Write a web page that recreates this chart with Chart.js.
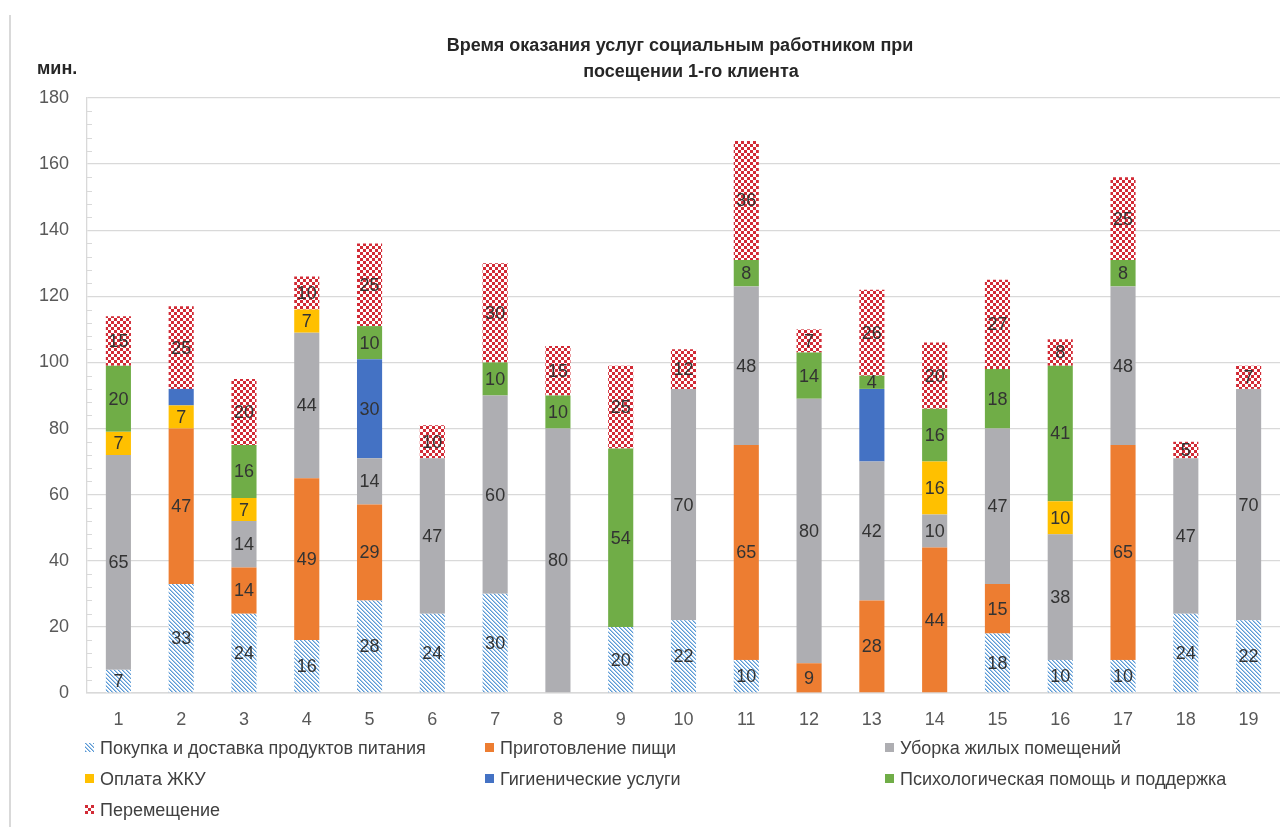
<!DOCTYPE html>
<html>
<head>
<meta charset="utf-8">
<script src="https://cdn.jsdelivr.net/npm/chart.js@4.4.1/dist/chart.umd.min.js"></script>
<style>
html,body{margin:0;padding:0;background:#fff;}
#wrap{position:relative;width:1280px;height:827px;overflow:hidden;font-family:"Liberation Sans",Arial,sans-serif;}
#c{position:absolute;left:0;top:0;}
#border{position:absolute;left:9px;top:15px;width:2px;height:820px;background:#d9d9d9;}
.title{position:absolute;font-weight:bold;font-size:18px;color:#262626;white-space:nowrap;transform:translate(-50%,-50%);}
#unit{position:absolute;left:37px;top:68px;font-weight:bold;font-size:18px;color:#262626;transform:translateY(-50%);}
.lg{position:absolute;height:20px;transform:translateY(-50%);white-space:nowrap;font-size:18px;color:#404040;line-height:20px;}
.sw{position:absolute;left:0;top:5px;width:9px;height:9px;}
.lt{position:absolute;left:15px;top:0;}
</style>
</head>
<body>
<div id="wrap">
  <canvas id="c" width="1280" height="827"></canvas>
  <div id="border"></div>
  <div class="title" style="left:680px;top:45px;">Время оказания услуг социальным работником при</div>
  <div class="title" style="left:691px;top:71px;">посещении 1-го клиента</div>
  <div id="unit">мин.</div>
  <div id="legend"></div>
</div>
<script>
// ---- data ----
const categories = ['1','2','3','4','5','6','7','8','9','10','11','12','13','14','15','16','17','18','19'];
const seriesNames = [
  'Покупка и доставка продуктов питания',
  'Приготовление пищи',
  'Уборка жилых помещений',
  'Оплата ЖКУ',
  'Гигиенические услуги',
  'Психологическая помощь и поддержка',
  'Перемещение'
];
const pokupka   = [7, 33, 24, 16, 28, 24, 30, null, 20, 22, 10, null, null, null, 18, 10, 10, 24, 22];
const prigotovl = [null, 47, 14, 49, 29, null, null, null, null, null, 65, 9, 28, 44, 15, null, 65, null, null];
const uborka    = [65, null, 14, 44, 14, 47, 60, 80, null, 70, 48, 80, 42, 10, 47, 38, 48, 47, 70];
const oplata    = [7, 7, 7, 7, null, null, null, null, null, null, null, null, null, 16, null, 10, null, null, null];
const gigiena   = [null, 5, null, null, 30, null, null, null, null, null, null, null, 22, null, null, null, null, null, null];
const psiholog  = [20, null, 16, null, 10, null, 10, 10, 54, null, 8, 14, 4, 16, 18, 41, 8, null, null];
const peremesch = [15, 25, 20, 10, 25, 10, 30, 15, 25, 12, 36, 7, 26, 20, 27, 8, 25, 5, 7];
// segments shown without a value label in the original (hygiene, columns 2 and 13)
const gigienaUnlabeled = [1, 12];
const yTicks = [0, 20, 40, 60, 80, 100, 120, 140, 160, 180];

// ---- patterns ----
function hatchTile(){
  const c=document.createElement('canvas'); c.width=4; c.height=4;
  const x=c.getContext('2d');
  x.fillStyle='#ffffff'; x.fillRect(0,0,4,4);
  for(let i=0;i<4;i++){
    x.fillStyle='#5B9BD5'; x.fillRect(i,i,1,1);
    x.fillStyle='#A9C9EA'; x.fillRect((i+1)%4,i,1,1);
  }
  return c;
}
function checkTile(){
  const c=document.createElement('canvas'); c.width=6; c.height=6;
  const x=c.getContext('2d');
  x.fillStyle='#ffffff'; x.fillRect(0,0,6,6);
  x.fillStyle='#D22B36';
  x.fillRect(0,0,3,3); x.fillRect(3,3,3,3);
  return c;
}
const ctx = document.getElementById('c').getContext('2d');
const hTile = hatchTile(), cTile = checkTile();
const hatchPat = ctx.createPattern(hTile,'repeat');
const checkPat = ctx.createPattern(cTile,'repeat');

const seriesData = [pokupka, prigotovl, uborka, oplata, gigiena, psiholog, peremesch];
const seriesFill = [hatchPat, '#ED7D31', '#AEAEB2', '#FFC000', '#4472C4', '#70AD47', checkPat];
const swatchCss = ['url('+hTile.toDataURL()+')', '#ED7D31', '#AEAEB2', '#FFC000', '#4472C4', '#70AD47', 'url('+cTile.toDataURL()+')'];

const datasets = seriesNames.map((n,i)=>({
  label:n, data:seriesData[i], backgroundColor:seriesFill[i], borderWidth:0,
  barPercentage:0.5, categoryPercentage:0.8, unlabeled: i===4 ? gigienaUnlabeled : []
}));

const FONT = '"Liberation Sans", Arial, sans-serif';

const segLabels = {
  id:'segLabels',
  afterDatasetsDraw(chart){
    const c=chart.ctx; c.save();
    c.font='18px '+FONT; c.fillStyle='#333333';
    c.textAlign='center'; c.textBaseline='middle';
    chart.data.datasets.forEach((ds,di)=>{
      const meta=chart.getDatasetMeta(di);
      meta.data.forEach((el,i)=>{
        const v=ds.data[i];
        if(v==null||v===0) return;
        if(ds.unlabeled.includes(i)) return;
        c.fillText(String(v), el.x, (el.y+el.base)/2+1);
      });
    });
    c.restore();
  }
};
const minorTicks = {
  id:'minorTicks',
  afterDraw(chart){
    const y=chart.scales.y, a=chart.chartArea, c=chart.ctx;
    c.save(); c.strokeStyle='#d9d9d9'; c.lineWidth=1;
    for(let v=0; v<=180; v+=4){
      if(v%20===0) continue;
      const p=Math.round(y.getPixelForValue(v))+0.5;
      c.beginPath(); c.moveTo(a.left,p); c.lineTo(a.left+5,p); c.stroke();
    }
    c.restore();
  }
};

new Chart(ctx,{
  type:'bar',
  data:{labels:categories, datasets},
  plugins:[segLabels, minorTicks],
  options:{
    responsive:false, animation:false,
    layout:{padding:{top:98,right:0,bottom:94,left:0}},
    plugins:{legend:{display:false}, title:{display:false}, tooltip:{enabled:false}},
    scales:{
      x:{
        stacked:true,
        grid:{display:false, drawTicks:false},
        border:{color:'#d9d9d9', width:1.5},
        ticks:{color:'#595959', font:{family:FONT,size:18}, padding:16},
        afterFit(s){ s.height=40; }
      },
      y:{
        stacked:true, min:0, max:180,
        grid:{color:'#d9d9d9', lineWidth:1.3, drawTicks:false},
        border:{color:'#d9d9d9', width:1.3},
        ticks:{stepSize:20, color:'#595959', font:{family:FONT,size:18}, padding:18,
          callback:(v)=> yTicks.includes(v) ? String(v) : ''},
        afterFit(s){ s.width=87; }
      }
    }
  }
});

// ---- HTML legend ----
const legendRows = [[0,1,2],[3,4,5],[6]];
const rowY = [748, 779, 810];
const colX = [85, 485, 885];
const lg = document.getElementById('legend');
legendRows.forEach((row,r)=>{
  row.forEach((si,ci)=>{
    const d=document.createElement('div'); d.className='lg';
    d.style.left=colX[ci]+'px'; d.style.top=rowY[r]+'px';
    const s=document.createElement('span'); s.className='sw'; s.style.background=swatchCss[si];
    const t=document.createElement('span'); t.className='lt'; t.textContent=seriesNames[si];
    d.appendChild(s); d.appendChild(t); lg.appendChild(d);
  });
});
</script>
</body>
</html>
